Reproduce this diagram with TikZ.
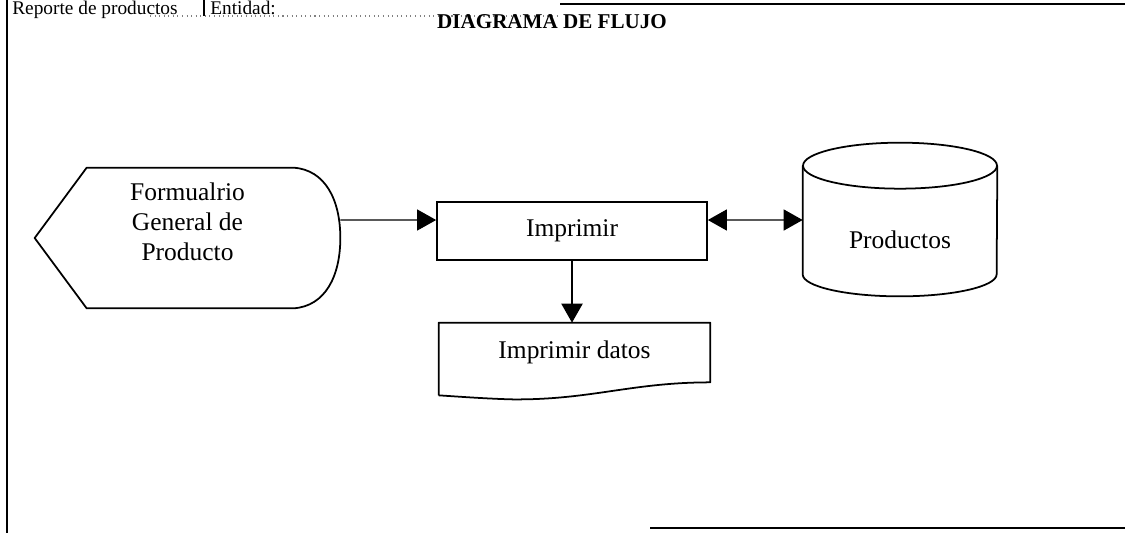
\documentclass[tikz,border=0pt]{standalone}
\usepackage{fontspec}
\setmainfont{Liberation Serif}
\usetikzlibrary{arrows.meta,positioning,calc}
\tikzset{
  flowtxt/.style={font=\fontsize{14.5}{17}\selectfont, align=center, inner sep=0pt},
  hdrtxt/.style={font=\fontsize{11}{13}\selectfont, inner sep=0pt},
  shapeline/.style={line width=1pt, line join=round},
  procbox/.style={draw, line width=1pt, minimum width=5.4cm, minimum height=1.16cm,
                  font=\fontsize{14.5}{17}\selectfont, inner sep=0pt},
  docbox/.style={minimum width=5.42cm, minimum height=1.18cm,
                 font=\fontsize{14.5}{17}\selectfont, inner sep=0pt},
  dispbox/.style={minimum width=6.1cm, minimum height=2.8cm, inner sep=0pt},
  dbbox/.style={minimum width=3.88cm, minimum height=3.04cm, inner sep=0pt},
  bigtip/.style={-{Triangle[length=0.38cm,width=0.42cm]}},
  bigtips/.style={{Triangle[length=0.38cm,width=0.42cm]}-{Triangle[length=0.38cm,width=0.42cm]}},
  frameline/.style={line width=0.6pt},
}

\begin{document}
\begin{tikzpicture}[x=0.02cm, y=-0.02cm]
  \useasboundingbox (0,0) rectangle (1125,532);

  % Header and frame
  \draw[frameline] (7,-5) -- (7,540);
  \draw[frameline] (204,-5) -- (204,16);
  \draw[frameline, gray, dotted] (150,16) -- (560,16);
  \draw[frameline] (560,4) -- (1125,4);
  \draw[frameline] (650,528) -- (1125,528);
  \node[hdrtxt, anchor=base west] (rep) at (12,14) {Reporte de productos};
  \node[hdrtxt, anchor=base west] (ent) at (210,14) {Entidad:};
  \node[font=\fontsize{12}{14}\selectfont\bfseries, anchor=base, inner sep=0pt] (title) at (552,28) {DIAGRAMA DE FLUJO};

  % Flow shapes
  \node[dispbox] (form) at (187.5,238) {};
  \node[flowtxt] (formlbl) at ([yshift=0.32cm]form.center) {Formualrio\\General de\\Producto};
  \draw[shapeline] (form.west) -- ($(form.north west)+(52,0)$) -- ($(form.north east)+(-47,0)$)
    .. controls ($(form.north east)+(-15,2)$) and ($(form.east)+(0,-38)$) .. (form.east)
    .. controls ($(form.east)+(0,38)$) and ($(form.south east)+(-15,-2)$) .. ($(form.south east)+(-47,0)$)
    -- ($(form.south west)+(52,0)$) -- cycle;

  \node[procbox] (imp) at (572,231) {Imprimir};

  \node[dbbox] (db) at (900,220) {};
  \node[flowtxt] (dblbl) at ([yshift=-0.4cm]db.center) {Productos};
  \draw[shapeline] ($(db.north)+(0,22)$) ellipse [x radius=1.94cm, y radius=0.46cm];
  \draw[shapeline] ($(db.north west)+(0,22)$) -- ($(db.south west)+(0,-22)$)
    arc[start angle=180, end angle=360, x radius=1.94cm, y radius=0.44cm]
    -- ($(db.north east)+(0,22)$);

  \node[docbox] (out) at (574.5,352.5) {Imprimir datos};
  \draw[shapeline] ($(out.south west)+(0,13)$) -- (out.north west) -- (out.north east) -- (out.south east)
    .. controls ($(out.south east)+(-80,0)$) and ($(out.south east)+(-120,18)$) .. ($(out.south east)+(-200,17)$)
    .. controls ($(out.south east)+(-230,16)$) and ($(out.south east)+(-255,14)$) .. ($(out.south west)+(0,13)$);

  % Connectors
  \draw[bigtip, line width=0.6pt] ([yshift=0.36cm]form.east) -- ([yshift=0.22cm]imp.west);
  \draw[bigtips, line width=0.8pt] ([yshift=0.22cm]imp.east) -- (db.west);
  \draw[bigtip, line width=1.3pt] (imp.south) -- (imp.south |- out.north);

\end{tikzpicture}
\end{document}
